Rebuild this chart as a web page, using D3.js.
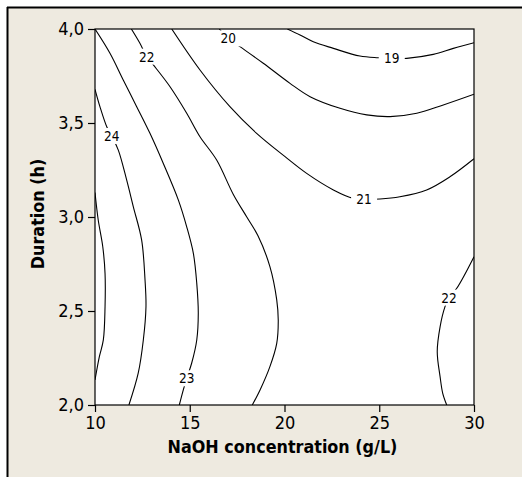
<!DOCTYPE html>
<html>
<head>
<meta charset="utf-8">
<script src="https://cdn.jsdelivr.net/npm/d3@7/dist/d3.min.js"></script>
<style>
  html, body { margin: 0; padding: 0; background: #ffffff; }
  svg { display: block; }
</style>
</head>
<body>
<svg id="chart" width="522" height="477"></svg>
<script>
// ---------- data ----------
const xTicks = [10, 15, 20, 25, 30];
const yTicks = [2.0, 2.5, 3.0, 3.5, 4.0];
const xTitle = "NaOH concentration (g/L)";
const yTitle = "Duration (h)";

// contour lines: [NaOH g/L, duration h]
const contour25 = [[10,3.13],[10.17,2.984],[10.41,2.842],[10.53,2.70],[10.53,2.523],[10.44,2.346],[10.23,2.257],[10,2.133]];
const contour24 = [[10,3.679],[10.26,3.587],[10.62,3.48],[10.88,3.431],[11.23,3.356],[11.67,3.197],[12.02,3.055],[12.46,2.878],[12.64,2.665],[12.69,2.523],[12.55,2.346],[12.28,2.169],[11.79,2.0]];
const contour23 = [[10,4.0],[10.79,3.871],[11.49,3.729],[12.2,3.587],[12.9,3.445],[13.6,3.286],[14.4,3.09],[14.84,2.948],[15.19,2.807],[15.37,2.647],[15.45,2.488],[15.37,2.346],[15.1,2.222],[14.84,2.142],[14.66,2.08],[14.45,2.0]];
const contour22a = [[11.92,4.0],[12.37,3.924],[12.73,3.853],[13.08,3.809],[13.96,3.693],[14.84,3.552],[15.54,3.427],[16.42,3.303],[17.3,3.12],[18.01,3.0],[18.6,2.9],[19.23,2.736],[19.59,2.559],[19.67,2.452],[19.59,2.328],[19.23,2.204],[18.71,2.08],[18.3,2.0]];
const contour21 = [[14.05,4.0],[15.54,3.782],[17.12,3.587],[18.53,3.445],[20.03,3.321],[21.17,3.232],[22.58,3.144],[23.63,3.099],[24.2,3.094],[25.04,3.096],[26.09,3.108],[27.5,3.144],[28.73,3.214],[30,3.31]];
const contour20 = [[16.56,4.0],[17.03,3.95],[17.65,3.906],[18.88,3.818],[20.29,3.711],[21.35,3.64],[22.93,3.578],[24.34,3.543],[25.57,3.534],[26.98,3.552],[28.38,3.596],[30,3.653]];
const contour19 = [[20.15,4.0],[20.82,3.968],[21.52,3.932],[22.58,3.897],[23.98,3.856],[24.95,3.847],[25.66,3.844],[26.45,3.844],[27.85,3.865],[28.91,3.897],[30,3.927]];
const contour22b = [[30,2.789],[29.09,2.621],[28.68,2.571],[28.47,2.523],[28.21,2.416],[28.06,2.284],[28.21,2.151],[28.35,2.062],[28.56,2.0]];

const contourLines = [contour25, contour24, contour23, contour22a, contour21, contour20, contour19, contour22b];

// contour labels: text and position on its line
const labelText = ["24", "23", "22", "21", "20", "19", "22"];
const labelX = [10.88, 14.84, 12.73, 24.2, 17.03, 25.66, 28.68];
const labelY = [3.431, 2.142, 3.853, 3.094, 3.95, 3.844, 2.571];

// ---------- drawing ----------
const svg = d3.select("#chart");
const W = 522, H = 477;
const plot = {left: 95, right: 474, top: 29, bottom: 405};
const tickFont = "'DejaVu Sans Condensed', 'Liberation Sans', sans-serif";

// figure background + frame
svg.append("rect").attr("x", 0).attr("y", 0).attr("width", W).attr("height", H).attr("fill", "#ffffff");
svg.append("rect").attr("x", 8).attr("y", 8).attr("width", W - 8).attr("height", H - 8).attr("fill", "#EEEAE0");
svg.append("line").attr("x1", 7).attr("x2", W).attr("y1", 7.5).attr("y2", 7.5).attr("stroke", "#000").attr("stroke-width", 2);
svg.append("line").attr("x1", 7.5).attr("x2", 7.5).attr("y1", 7).attr("y2", H).attr("stroke", "#000").attr("stroke-width", 2);

const x = d3.scaleLinear().domain([10, 30]).range([plot.left, plot.right]);
const y = d3.scaleLinear().domain([2, 4]).range([plot.bottom, plot.top]);

// plot area
svg.append("rect")
  .attr("x", plot.left).attr("y", plot.top)
  .attr("width", plot.right - plot.left).attr("height", plot.bottom - plot.top)
  .attr("fill", "#ffffff");

svg.append("clipPath").attr("id", "clip")
  .append("rect")
  .attr("x", plot.left).attr("y", plot.top)
  .attr("width", plot.right - plot.left).attr("height", plot.bottom - plot.top);

const line = d3.line()
  .x(d => x(d[0])).y(d => y(d[1]))
  .curve(d3.curveCatmullRom.alpha(0.5));

const g = svg.append("g").attr("clip-path", "url(#clip)");
g.selectAll("path.contour")
  .data(contourLines)
  .join("path")
  .attr("class", "contour")
  .attr("d", line)
  .attr("fill", "none")
  .attr("stroke", "#000")
  .attr("stroke-width", 1.1);

// labels with gaps in the line
const labels = g.selectAll("g.lab")
  .data(labelText.map((t, i) => ({t, x: labelX[i], y: labelY[i]})))
  .join("g").attr("class", "lab")
  .attr("transform", d => `translate(${x(d.x)},${y(d.y)})`);
labels.append("rect")
  .attr("x", -13).attr("y", -8).attr("width", 26).attr("height", 16)
  .attr("fill", "#ffffff");
labels.append("text")
  .text(d => d.t)
  .attr("text-anchor", "middle")
  .attr("dy", "0.36em")
  .attr("font-family", tickFont)
  .attr("font-size", 13.5)
  .attr("fill", "#000");

// axes
const xAxis = d3.axisBottom(x).tickValues(xTicks).tickSize(7).tickPadding(4)
  .tickFormat(d3.format("d"));
const yAxis = d3.axisLeft(y).tickValues(yTicks).tickSize(7).tickPadding(4)
  .tickFormat(d => d3.format(".1f")(d).replace(".", ","));

const gx = svg.append("g").attr("transform", `translate(0,${plot.bottom})`).call(xAxis);
const gy = svg.append("g").attr("transform", `translate(${plot.left},0)`).call(yAxis);
[gx, gy].forEach(a => {
  a.select(".domain").remove();
  a.selectAll(".tick line").attr("stroke", "#000").attr("stroke-width", 1.2);
  a.selectAll(".tick text").attr("font-family", tickFont).attr("font-size", 18).attr("fill", "#000");
});

// plot frame
svg.append("rect")
  .attr("x", plot.left).attr("y", plot.top)
  .attr("width", plot.right - plot.left).attr("height", plot.bottom - plot.top)
  .attr("fill", "none").attr("stroke", "#000").attr("stroke-width", 1.2);

// titles
svg.append("text")
  .attr("x", (plot.left + plot.right) / 2 - 2).attr("y", 453)
  .attr("text-anchor", "middle")
  .attr("font-family", tickFont).attr("font-weight", "bold").attr("font-size", 17.8)
  .attr("fill", "#000")
  .text(xTitle);
svg.append("text")
  .attr("transform", `translate(44,${(plot.top + plot.bottom) / 2 - 3}) rotate(-90)`)
  .attr("text-anchor", "middle")
  .attr("font-family", tickFont).attr("font-weight", "bold").attr("font-size", 17.8)
  .attr("fill", "#000")
  .text(yTitle);
</script>
</body>
</html>
